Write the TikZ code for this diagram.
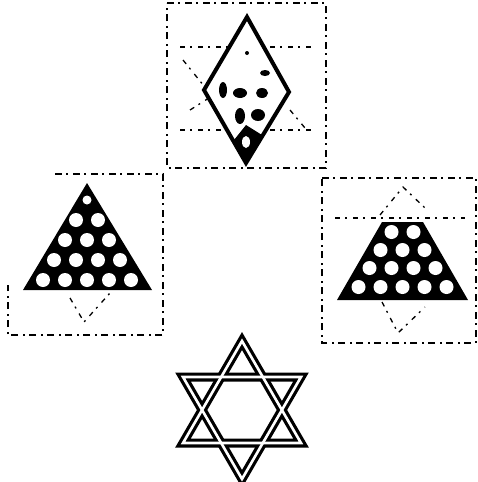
\documentclass[tikz,border=0pt]{standalone}
\begin{document}
\begin{tikzpicture}[x=1pt,y=-1pt,
  noisebox/.style={draw=black,line width=1.4pt,dash pattern=on 7pt off 4pt on 2pt off 5pt},
  faint/.style={draw=black,line width=1.3pt,dash pattern=on 5pt off 5pt on 2pt off 6pt},
  hole/.style={fill=white,draw=none},
  blob/.style={fill=black,draw=none}]
\useasboundingbox (0,0) rectangle (478,482);
% ---------- top box with diamond ----------
\draw[noisebox] (167,3) -- (326,3) -- (326,168) -- (167,168) -- cycle;
\draw[faint] (180,47) -- (315,47);
\draw[faint] (180,130) -- (315,130);
\draw[faint] (183,60) -- (204,86);
\draw[faint] (190,110) -- (212,96);
\draw[faint] (290,110) -- (305,128);
\fill[white] (247,17) -- (204,90) -- (246,163) -- (289,92) -- cycle;
\draw[line width=4pt,line join=miter] (247,17) -- (204,90) -- (246,163) -- (289,92) -- cycle;
\fill[blob] (223,90) ellipse (4 and 8);
\fill[blob] (240,93) ellipse (7 and 5);
\fill[blob] (262,93) ellipse (6 and 5);
\fill[blob] (240,116) ellipse (5 and 8);
\fill[blob] (258,115) ellipse (7 and 6);
\fill[blob] (265,73) ellipse (5 and 3);
\fill[blob] (247,53) circle (2);
\fill[blob] (234,140) -- (246,125) -- (262,135) -- (246,163) -- cycle;
\fill[white] (246,142) ellipse (4 and 6);
% ---------- left box with triangle ----------
\draw[noisebox] (55,174) -- (163,174) -- (163,335) -- (8,335) -- (8,285);
\draw[faint] (70,298) -- (84,322) -- (110,293);
\fill[black,line join=miter] (87,183) -- (23,290) -- (152,290) -- cycle;
\foreach \k in {0,...,4}{
  \foreach \j in {0,...,\k}{
    \fill[hole] ({87-11*\k+22*\j},{200+20*\k}) circle ({\k==0?4.5:7});
  }
}
% ---------- right box with trapezoid ----------
\draw[noisebox] (322,178) -- (476,178) -- (476,343) -- (322,343) -- cycle;
\draw[faint] (335,218) -- (465,218);
\draw[faint] (380,215) -- (403,187) -- (425,208);
\draw[faint] (382,302) -- (398,333) -- (425,307);
\fill[black] (382,222) -- (423,222) -- (468,300) -- (337,300) -- cycle;
\foreach \k/\y in {1/232,2/250,3/268,4/287}{
  \foreach \j in {0,...,\k}{
    \fill[hole] ({402.5-11*\k+22*\j},\y) circle (7);
  }
}
% ---------- star of David ----------
\coordinate (ua) at (242,341);
\coordinate (ul) at (183,443);
\coordinate (ur) at (301,443);
\coordinate (dl) at (183,377);
\coordinate (dr) at (301,377);
\coordinate (da) at (242,479);
\draw[line width=9pt,line join=miter] (ua) -- (ul) -- (ur) -- cycle;
\draw[line width=9pt,line join=miter] (dl) -- (dr) -- (da) -- cycle;
\draw[white,line width=2.6pt,line join=miter] (ua) -- (ul) -- (ur) -- cycle;
\draw[white,line width=2.6pt,line join=miter] (dl) -- (dr) -- (da) -- cycle;
\end{tikzpicture}
\end{document}
